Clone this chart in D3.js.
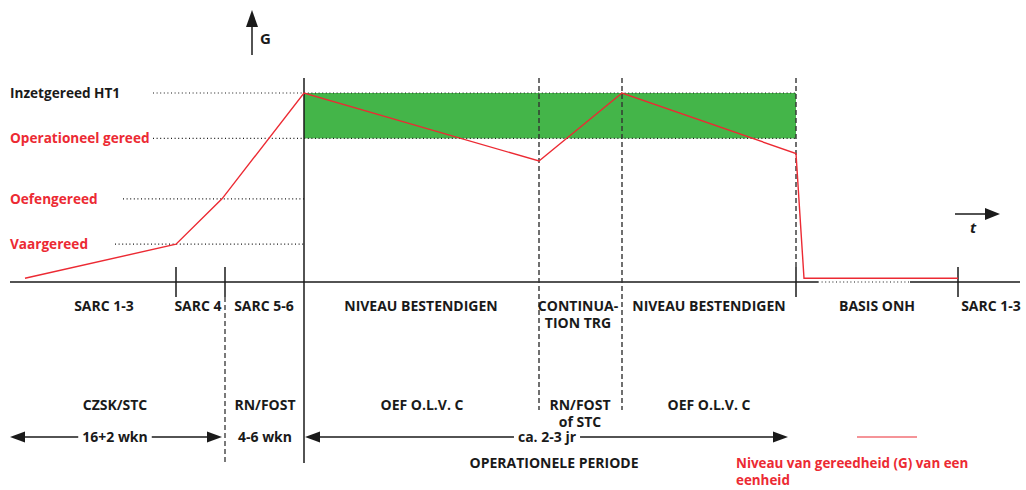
<!DOCTYPE html>
<html>
<head>
<meta charset="utf-8">
<script src="https://cdn.jsdelivr.net/npm/d3@7"></script>
<style>
  html, body { margin: 0; padding: 0; background: #fff; }
  svg { display: block; }
  text { font-family: "Open Sans", "Noto Sans", sans-serif; font-weight: 700; }
</style>
</head>
<body>
<svg id="chart" width="1026" height="490"></svg>
<script>
// Niveaus van gereedheid (G)
const levelNames = ['Vaargereed', 'Oefengereed', 'Operationeel gereed', 'Inzetgereed HT1'];
const levelValues = [20, 44, 76, 100];
const levelGuideStart = [105, 113, 143, 143];

// Verloop van de gereedheid over de tijd (t)
const readinessT = [15, 166, 212, 294, 529, 612, 786, 794, 948];
const readinessG = [2, 20, 44, 100, 64, 100, 68, 2, 2];

// Fasegrenzen op de tijdas
const ticksSolid = [166, 215, 948];
const ticksDashed = [529, 612];
const opStart = 294;
const opEnd = 786;

// Fasen (rij 1) en activiteiten (rij 2)
const phaseNames = ['SARC 1-3', 'SARC 4', 'SARC 5-6', 'NIVEAU BESTENDIGEN', 'CONTINUA-|TION TRG', 'NIVEAU BESTENDIGEN', 'BASIS ONH', 'SARC 1-3'];
const phaseMid = [94, 188, 254, 411, 568, 699, 867, 981];
const activityNames = ['CZSK/STC', 'RN/FOST', 'OEF O.L.V. C', 'RN/FOST|of STC', 'OEF O.L.V. C'];
const activityMid = [105, 255, 412, 570, 699];

// Duur
const durationLabels = ['16+2 wkn', '4-6 wkn', 'ca. 2-3 jr'];
const durationMid = [105, 255, 537];
const durationFrom = [0, null, 295];
const durationTo = [212, null, 778];

const RED = '#ec2a33';
const INK = '#1a1a1a';
const GREEN = '#44b549';
const FS = 14;

const svg = d3.select('#chart');

// Schalen
const x = d3.scaleLinear().domain([0, 1010]).range([10, 1020]);
const y = d3.scaleLinear().domain([0, 100]).range([282, 93]);

const base = y(0);
const yTop = 78;      // bovenkant verticale lijnen
const yBottom = 463;  // onderkant lange lijnen

// Groene band (operationeel gereed tot inzetgereed)
svg.append('rect')
  .attr('x', x(opStart))
  .attr('y', y(100))
  .attr('width', x(opEnd) - x(opStart))
  .attr('height', y(76) - y(100))
  .attr('fill', GREEN);

// Hulplijnen per niveau (gestippeld)
levelValues.forEach((v, i) => {
  const end = v >= 76 ? opEnd : opStart;
  svg.append('line')
    .attr('x1', x(levelGuideStart[i])).attr('x2', x(end))
    .attr('y1', y(v)).attr('y2', y(v))
    .attr('stroke', INK).attr('stroke-width', 1.2)
    .attr('stroke-dasharray', '1,2.6');
});

// Niveau labels
svg.selectAll('.level-label')
  .data(levelNames)
  .enter()
  .append('text')
  .attr('class', 'level-label')
  .attr('x', 10)
  .attr('y', (d, i) => y(levelValues[i]) + 5)
  .attr('font-size', 13.6)
  .attr('fill', (d, i) => i == 3 ? INK : RED)
  .text(d => d);

// Tijdas: doorgetrokken, met een gestippeld stuk onder de rode lijn
const dotFrom = 808, dotTo = 900;
svg.append('line')
  .attr('x1', x(0)).attr('x2', x(dotFrom))
  .attr('y1', base).attr('y2', base)
  .attr('stroke', INK).attr('stroke-width', 1.5);
svg.append('line')
  .attr('x1', x(dotFrom)).attr('x2', x(dotTo))
  .attr('y1', base).attr('y2', base)
  .attr('stroke', INK).attr('stroke-width', 1.2)
  .attr('stroke-dasharray', '1,2.6');
svg.append('line')
  .attr('x1', x(dotTo)).attr('x2', x(1010))
  .attr('y1', base).attr('y2', base)
  .attr('stroke', INK).attr('stroke-width', 1.5);

// Verticale as (begin operationele periode)
svg.append('line')
  .attr('x1', x(opStart)).attr('x2', x(opStart))
  .attr('y1', yTop).attr('y2', yBottom)
  .attr('stroke', INK).attr('stroke-width', 1.5);

// Korte streepjes op de tijdas
ticksSolid.concat([opEnd]).forEach(t => {
  svg.append('line')
    .attr('x1', x(t)).attr('x2', x(t))
    .attr('y1', base - 15).attr('y2', base + 15)
    .attr('stroke', INK).attr('stroke-width', 1.5);
});

// SARC 4 grens loopt gestreept door naar beneden
svg.append('line')
  .attr('x1', x(215)).attr('x2', x(215))
  .attr('y1', base + 15).attr('y2', yBottom)
  .attr('stroke', '#333').attr('stroke-width', 1.3)
  .attr('stroke-dasharray', '5,3');

// Gestreepte lijnen continuation training
ticksDashed.forEach(t => {
  svg.append('line')
    .attr('x1', x(t)).attr('x2', x(t))
    .attr('y1', yTop).attr('y2', 410)
    .attr('stroke', '#333').attr('stroke-width', 1.4)
    .attr('stroke-dasharray', '5,3');
});

// Einde operationele periode
svg.append('line')
  .attr('x1', x(opEnd)).attr('x2', x(opEnd))
  .attr('y1', yTop).attr('y2', base - 15)
  .attr('stroke', '#333').attr('stroke-width', 1.4)
  .attr('stroke-dasharray', '5,3');

// Rode lijn gereedheid
const line = d3.line()
  .x(d => x(d[0]))
  .y(d => y(d[1]));
svg.append('path')
  .datum(d3.zip(readinessT, readinessG))
  .attr('d', line)
  .attr('fill', 'none')
  .attr('stroke', RED)
  .attr('stroke-width', 1.4)
  .attr('stroke-linejoin', 'miter');

// Pijl G (verticaal)
svg.append('line')
  .attr('x1', 252).attr('x2', 252).attr('y1', 55).attr('y2', 24)
  .attr('stroke', INK).attr('stroke-width', 1.5);
svg.append('path')
  .attr('d', 'M252,10 L258,27 L246,27 Z')
  .attr('fill', INK);
svg.append('text')
  .attr('x', 260).attr('y', 44)
  .attr('font-size', 15)
  .attr('fill', INK)
  .text('G');

// Pijl t (horizontaal)
svg.append('line')
  .attr('x1', 955).attr('x2', 988).attr('y1', 214).attr('y2', 214)
  .attr('stroke', INK).attr('stroke-width', 1.5);
svg.append('path')
  .attr('d', 'M1000,214 L985,208 L985,220 Z')
  .attr('fill', INK);
svg.append('text')
  .attr('x', 970).attr('y', 233)
  .attr('font-size', 15)
  .attr('font-style', 'italic')
  .attr('fill', INK)
  .text('t');

// Tekst met meerdere regels ('|' = nieuwe regel)
function multiText(sel, txt, lh) {
  txt.split('|').forEach((part, i) => {
    sel.append('tspan')
      .attr('x', sel.attr('x'))
      .attr('dy', i == 0 ? 0 : lh)
      .text(part);
  });
}

// Rij 1: fasen
phaseNames.forEach((name, i) => {
  const t = svg.append('text')
    .attr('x', x(phaseMid[i]))
    .attr('y', 311)
    .attr('text-anchor', 'middle')
    .attr('font-size', FS)
    .attr('fill', INK);
  multiText(t, name, 17);
});

// Rij 2: activiteiten
activityNames.forEach((name, i) => {
  const t = svg.append('text')
    .attr('x', x(activityMid[i]))
    .attr('y', 410)
    .attr('text-anchor', 'middle')
    .attr('font-size', FS)
    .attr('fill', INK);
  multiText(t, name, 17);
});

// Rij 3: duur met pijlen
const arrowY = 437;
durationLabels.forEach((label, i) => {
  const cx = x(durationMid[i]);
  const txt = svg.append('text')
    .attr('x', cx)
    .attr('y', arrowY + 5)
    .attr('text-anchor', 'middle')
    .attr('font-size', FS)
    .attr('fill', INK)
    .text(label);
  if (durationFrom[i] == null) return;
  const half = txt.node().getComputedTextLength() / 2 + 4;
  const x0 = x(durationFrom[i]), x1 = x(durationTo[i]);
  svg.append('line')
    .attr('x1', x0 + 10).attr('x2', cx - half)
    .attr('y1', arrowY).attr('y2', arrowY)
    .attr('stroke', INK).attr('stroke-width', 1.3);
  svg.append('line')
    .attr('x1', cx + half).attr('x2', x1 - 10)
    .attr('y1', arrowY).attr('y2', arrowY)
    .attr('stroke', INK).attr('stroke-width', 1.3);
  svg.append('path')
    .attr('d', `M${x0},${arrowY} L${x0 + 15},${arrowY - 5.5} L${x0 + 15},${arrowY + 5.5} Z`)
    .attr('fill', INK);
  svg.append('path')
    .attr('d', `M${x1},${arrowY} L${x1 - 15},${arrowY - 5.5} L${x1 - 15},${arrowY + 5.5} Z`)
    .attr('fill', INK);
});

svg.append('text')
  .attr('x', 554).attr('y', 468)
  .attr('text-anchor', 'middle')
  .attr('font-size', FS)
  .attr('fill', INK)
  .text('OPERATIONELE PERIODE');

// Legenda
svg.append('line')
  .attr('x1', 857).attr('x2', 917).attr('y1', arrowY).attr('y2', arrowY)
  .attr('stroke', RED).attr('stroke-width', 1.2);
const legend = svg.append('text')
  .attr('x', 736).attr('y', 468)
  .attr('font-size', 13.4)
  .attr('fill', RED);
multiText(legend, 'Niveau van gereedheid (G) van een|eenheid', 17);
</script>
</body>
</html>
